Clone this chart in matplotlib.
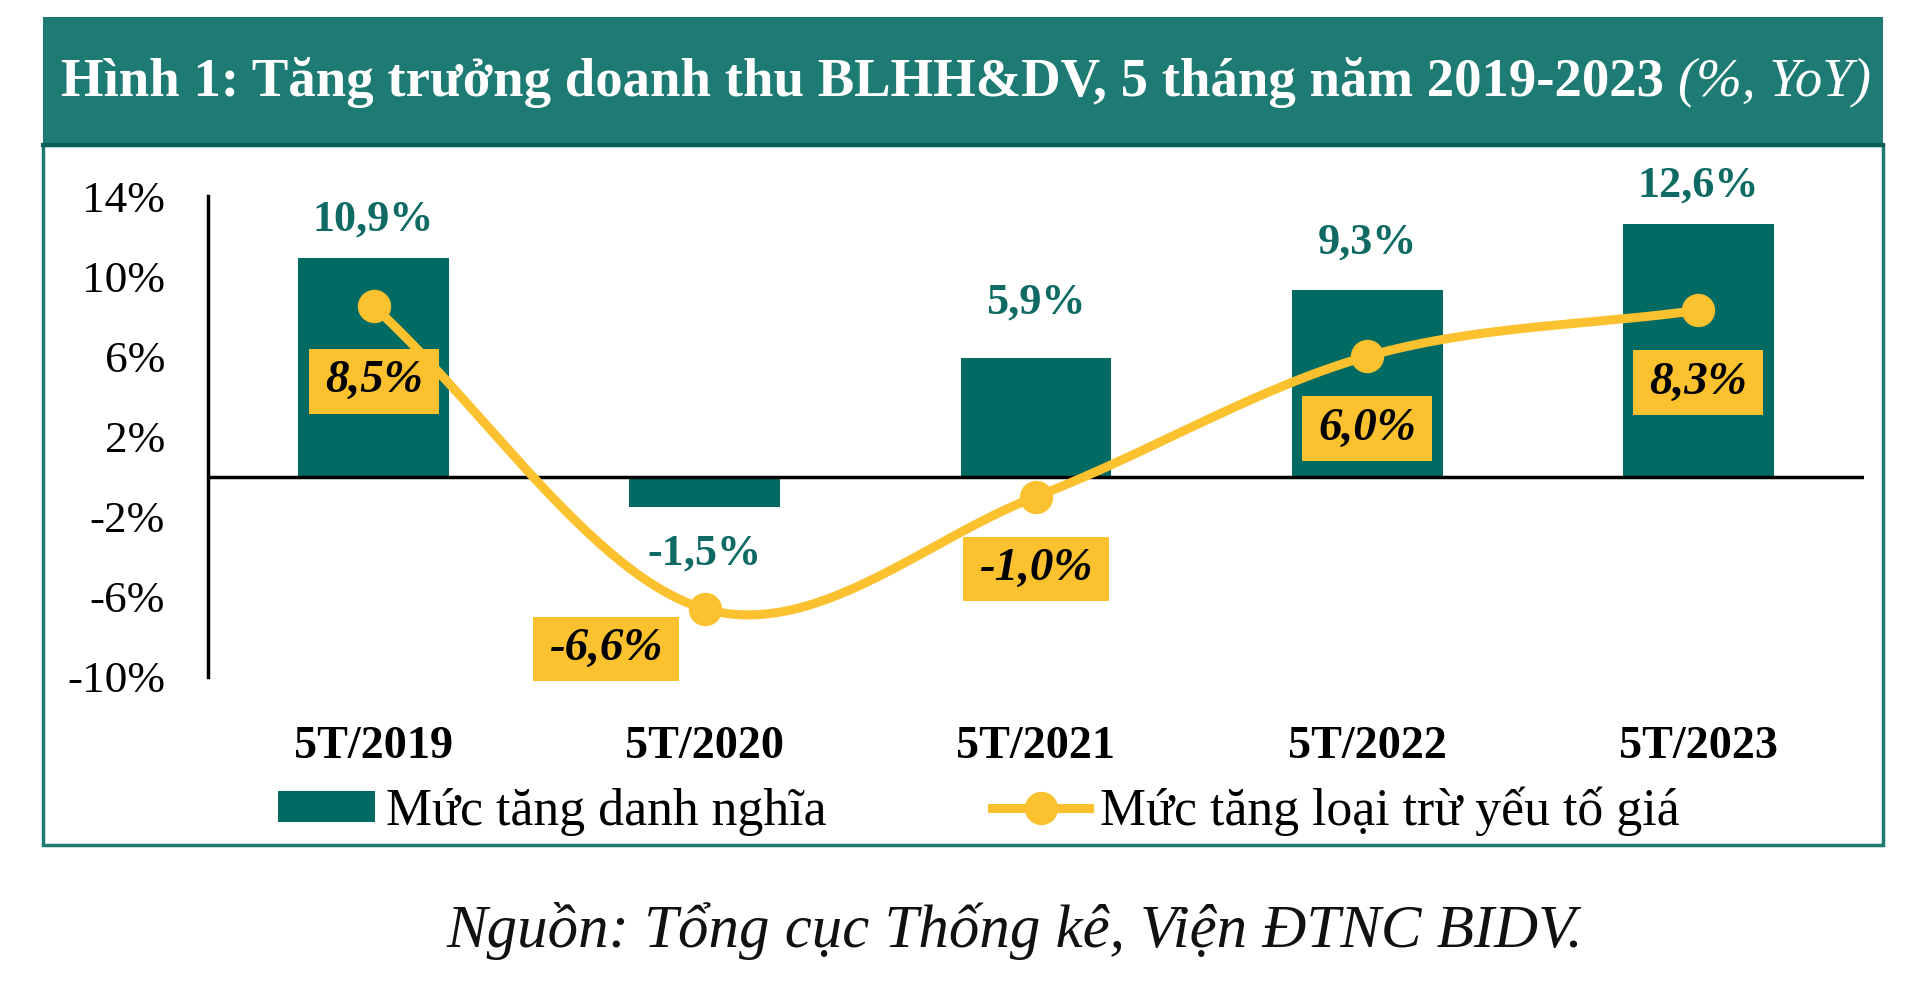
import matplotlib
matplotlib.use("Agg")
import matplotlib.pyplot as plt
import numpy as np
from matplotlib.patches import Rectangle, Patch
from matplotlib.lines import Line2D
from matplotlib.path import Path

# ---------------- data ----------------
categories = ["5T/2019", "5T/2020", "5T/2021", "5T/2022", "5T/2023"]
nominal = [10.9, -1.5, 5.9, 9.3, 12.6]          # Mức tăng danh nghĩa
real = [8.5, -6.6, -1.0, 6.0, 8.3]              # Mức tăng loại trừ yếu tố giá
ytick_vals = [-10, -6, -2, 2, 6, 10, 14]
ytick_labels = ["-10%", "-6%", "-2%", "2%", "6%", "10%", "14%"]
title_main = "Hình 1: Tăng trưởng doanh thu BLHH&DV, 5 tháng năm 2019-2023 "
title_unit = "(%, YoY)"
legend_labels = ["Mức tăng danh nghĩa", "Mức tăng loại trừ yếu tố giá"]
source = "Nguồn: Tổng cục Thống kê, Viện ĐTNC BIDV."

# ---------------- style ----------------
TEAL_BAR = "#016A62"
TEAL_BAND = "#1D7B73"
TEAL_TXT = "#0E6A63"
YELLOW = "#FCC12E"
SERIF = ["Liberation Serif", "DejaVu Serif"]
W, H = 1920, 983
value_offsets = [28, -34, 40, 34, 28]            # points, vertical offset of green labels
box_offsets = [(0, -54), (-71, -29), (0, -52), (0, -52), (0, -52)]  # points


def fmt(v):
    return f"{v:.1f}".replace(".", ",") + "%"


def label_box(x0, y0, width, height, mutation_size):
    px, py = 0.34 * mutation_size, 0.24 * mutation_size
    xa, xb = x0 - px, x0 + width + px
    ya, yb = y0 - py, y0 + height + py
    return Path([(xa, ya), (xb, ya), (xb, yb), (xa, yb), (xa, ya)], closed=True)


fig = plt.figure(figsize=(W / 100, H / 100), dpi=100)
fig.patch.set_facecolor("white")
renderer = fig.canvas.get_renderer()


def size_for(s, target_px, **kw):
    t = fig.text(0, 0, s, fontsize=50, **kw)
    w = t.get_window_extent(renderer).width
    t.remove()
    return 50 * target_px / w


# frame & title band
fig.add_artist(Rectangle((43 / W, 1 - 845 / H), 1840 / W, 700 / H, transform=fig.transFigure,
                         fill=False, edgecolor=TEAL_BAND, lw=2.5, zorder=0))
fig.add_artist(Rectangle((43 / W, 1 - 145 / H), 1840 / W, 128 / H, transform=fig.transFigure,
                         facecolor=TEAL_BAND, edgecolor="none", zorder=0))
fig.add_artist(Line2D([43 / W, 1883 / W], [1 - 145 / H, 1 - 145 / H], transform=fig.transFigure,
                      color="#0C5F58", lw=3))

# title (bold + italic part)
t1 = fig.text(0, 0, title_main, fontsize=50, family=SERIF, weight="bold")
t2 = fig.text(0, 0, title_unit, fontsize=50, family=SERIF, style="italic")
wtot = t1.get_window_extent(renderer).width + t2.get_window_extent(renderer).width
fs_title = 50 * 1808 / wtot
t1.set_fontsize(fs_title); t2.set_fontsize(fs_title)
t1.set_color("white"); t2.set_color("white")
ty = 1 - 83 / H
t1.set_position((61 / W, ty)); t1.set_va("center"); t1.set_ha("left")
w1 = t1.get_window_extent(renderer).width
t2.set_position(((61 + w1) / W, ty)); t2.set_va("center"); t2.set_ha("left")

# axes
ax = fig.add_axes([208 / W, 1 - 677 / H, (1864 - 208) / W, (677 - 196) / H])
ax.set_xlim(-0.5, 4.5)
ax.set_ylim(-10, 14)
x = np.arange(len(categories))
ax.bar(x, nominal, width=0.455, color=TEAL_BAR, zorder=2)
ax.axhline(0, color="black", lw=2.5, zorder=3)

# smooth (Catmull-Rom) curve through the real-growth points
xs, ys = [], []
P = np.array(real, dtype=float)
for i in range(len(P) - 1):
    p1, p2 = P[i], P[i + 1]
    m1 = (P[i + 1] - P[i - 1]) / 2 if i > 0 else (p2 - p1)
    m2 = (P[i + 2] - P[i]) / 2 if i + 2 < len(P) else (p2 - p1)
    tt = np.linspace(0, 1, 60)
    h00 = 2 * tt**3 - 3 * tt**2 + 1
    h10 = tt**3 - 2 * tt**2 + tt
    h01 = -2 * tt**3 + 3 * tt**2
    h11 = tt**3 - tt**2
    xs.extend(i + tt)
    ys.extend(h00 * p1 + h10 * m1 + h01 * p2 + h11 * m2)
ax.plot(xs, ys, color=YELLOW, lw=6.5, solid_capstyle="round", zorder=4)
ax.plot(x, real, "o", color=YELLOW, ms=23, zorder=5)

for s in ["top", "right", "bottom"]:
    ax.spines[s].set_visible(False)
ax.spines["left"].set_linewidth(2.5)
ax.spines["left"].set_color("black")

fs_ytick = size_for("-10%", 98, family=SERIF)
ax.set_yticks(ytick_vals, ytick_labels)
ax.tick_params(axis="y", length=0, pad=31, labelsize=fs_ytick)
fs_cat = size_for("5T/2019", 159, family=SERIF, weight="bold")
ax.set_xticks(x, categories)
ax.tick_params(axis="x", length=0, pad=35, labelsize=fs_cat)
for lab in ax.get_xticklabels() + ax.get_yticklabels():
    lab.set_family(SERIF)
for lab in ax.get_xticklabels():
    lab.set_weight("bold")

# green value labels
fs_val = size_for("10,9%", 122, family=SERIF, weight="bold")
for xi, v, off in zip(x, nominal, value_offsets):
    ax.annotate(fmt(v), (xi, v), xytext=(0, off), textcoords="offset points",
                ha="center", va="center", fontsize=fs_val, family=SERIF,
                weight="bold", color=TEAL_TXT, zorder=6)

# yellow boxed labels
fs_y = size_for("8,5%", 98, family=SERIF, weight="bold", style="italic")
for xi, v, (dx, dy) in zip(x, real, box_offsets):
    ax.annotate(fmt(v), (xi, v), xytext=(dx, dy), textcoords="offset points",
                ha="center", va="center", fontsize=fs_y, family=SERIF,
                weight="bold", style="italic", color="black", zorder=7,
                bbox=dict(boxstyle=label_box, facecolor=YELLOW, edgecolor="none"))

# legend
fs_leg = size_for(legend_labels[0], 441, family=SERIF)
handles = [Patch(facecolor=TEAL_BAR, edgecolor="none"),
           Line2D([], [], color=YELLOW, lw=6.5, marker="o", ms=23)]
fig.legend(handles, legend_labels, loc="center", bbox_to_anchor=(979 / W, 1 - 811 / H),
           ncol=2, frameon=False, prop={"family": SERIF, "size": fs_leg},
           handlelength=1.87, handleheight=0.55, handletextpad=0.22, columnspacing=3.2)

# source
fs_src = size_for(source, 1136, family=SERIF, style="italic")
fig.text(1015 / W, 1 - 931 / H, source, ha="center", va="center", fontsize=fs_src,
         family=SERIF, style="italic", color="#111111")

fig.savefig("out.png", dpi=100)
